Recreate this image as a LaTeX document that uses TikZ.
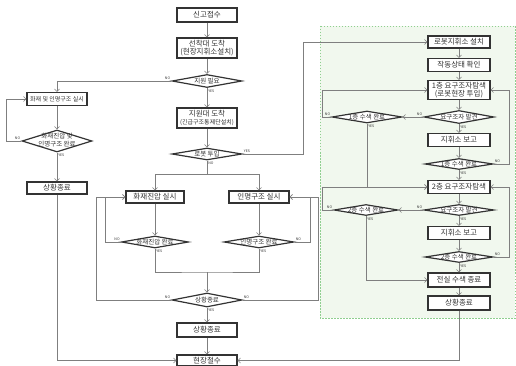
\documentclass[tikz,border=0pt]{standalone}
\usepackage{fontspec}
\setmainfont{Noto Sans CJK KR}
\usepackage{xcolor}
\usetikzlibrary{arrows.meta,shapes.geometric}

\definecolor{ink}{HTML}{333333}
\definecolor{wirecol}{HTML}{7F7F7F}
\definecolor{zonefill}{HTML}{F1F8EE}
\definecolor{zoneline}{HTML}{8FCF8F}
\newcommand{\dt}[1]{\makebox[0pt]{#1}}

\begin{document}
\begin{tikzpicture}[
    x=1pt, y=-1pt,
    box/.style={draw=ink, line width=1.2pt, fill=white, minimum width=62pt, minimum height=13pt,
                inner sep=0pt, align=center, text=ink, font=\fontsize{7.5}{8.5}\selectfont},
    dia/.style={diamond, aspect=1, draw=ink, line width=1.2pt, fill=white, inner sep=0pt,
                text=ink, font=\fontsize{6.5}{7}\selectfont},
    flow/.style={draw=wirecol, line width=0.6pt, -{Straight Barb[length=2.5pt,width=5pt]}},
    wire/.style={draw=wirecol, line width=0.6pt},
    lbl/.style={font=\fontsize{3.5}{4}\selectfont, text=ink, inner sep=1pt},
    zone/.style={draw=zoneline, fill=zonefill, line width=0.6pt, dash pattern=on 1.5pt off 1.5pt}
]
\useasboundingbox (0,0) rectangle (516,366);

% Robot zone
\draw[zone] (320,26) rectangle (515,318);

% Main column
\node[box, minimum width=60pt, minimum height=14pt] (recv) at (207,15) {신고접수};
\node[box, minimum width=60pt, minimum height=20pt] (first) at (207,48) {선착대 도착\\(현장지휘소설치)};
\node[dia, minimum width=70pt, minimum height=13pt] (needq) at (207,81) {\dt{지원 필요}};
\node[box, minimum width=60pt, minimum height=20pt] (support) at (207,118)
    {지원대 도착\\{\fontsize{6}{7}\selectfont(긴급구조통제단설치)}};
\node[dia, minimum width=70pt, minimum height=12pt] (robotq) at (207,154) {\dt{로봇 투입}};
\coordinate (split) at (207,174);
\node[box, minimum width=58pt, minimum height=12pt] (fire) at (155,197) {화재진압 실시};
\node[box, minimum width=60pt, minimum height=12pt] (rescue) at (259,197) {인명구조 실시};
\node[dia, minimum width=67pt, minimum height=12pt] (fireq) at (155,242) {\dt{화재진압 완료}};
\node[dia, minimum width=70pt, minimum height=12pt] (rescueq) at (259,242) {\dt{인명구조 완료}};
\coordinate (merge) at (207,272);
\node[dia, minimum width=70pt, minimum height=14pt] (endq) at (207,300) {\dt{상황종료}};
\node[box, minimum width=60pt, minimum height=14pt] (endbox) at (207,330) {상황종료};
\node[box, minimum width=60pt, minimum height=11pt] (withdraw) at (207,360.5) {현장철수};

% Left column (no support)
\node[box, minimum width=60pt, minimum height=13pt, font=\fontsize{6}{7}\selectfont] (solo) at (57,99)
    {화재 및 인명구조 실시};
\node[dia, minimum width=70pt, minimum height=22pt] (soloq) at (57,141)
    {\dt{\begin{tabular}{@{}c@{}}화재진압 및\\인명구조 완료\end{tabular}}};
\node[box, minimum width=60pt, minimum height=12pt] (soloend) at (57,188) {상황종료};

% Robot column
\node[box, minimum height=12pt] (rcmd) at (459,42) {로봇지휘소 설치};
\node[box] (rcheck) at (459,65) {작동상태 확인};
\node[box, minimum height=19pt] (f1) at (459,90) {1층 요구조자탐색\\(로봇현장 투입)};
\node[dia, minimum width=70pt, minimum height=13pt] (f1find) at (459,117) {\dt{요구조자 발견}};
\node[dia, minimum width=70pt, minimum height=12pt] (f1done) at (367,117) {\dt{1층 수색 완료}};
\node[box] (f1rep) at (459,140) {지휘소 보고};
\node[dia, minimum width=68pt, minimum height=11pt] (f1fin) at (459,164) {\dt{1층 수색 완료}};
\node[box] (f2) at (459,187) {2층 요구조자탐색};
\node[dia, minimum width=70pt, minimum height=11pt] (f2find) at (459,210) {\dt{요구조자 발견}};
\node[dia, minimum width=64pt, minimum height=11pt] (f2done) at (366,210) {\dt{2층 수색 완료}};
\node[box] (f2rep) at (459,233) {지휘소 보고};
\node[dia, minimum width=68pt, minimum height=11pt] (f2fin) at (459,257) {\dt{2층 수색 완료}};
\node[box, minimum height=14pt] (allend) at (459,280) {전실 수색 종료};
\node[box, minimum height=14pt] (rend) at (459,303) {상황종료};

% Main flow
\draw[flow] (recv) -- (first);
\draw[flow] (first) -- (needq);
\draw[flow] (needq.west) node[lbl, above left] {NO} -| (solo);
\draw[flow] (needq.south) node[lbl, below right] {YES} -- (support);
\draw[flow] (support) -- (robotq);
\draw[flow] (robotq.east) node[lbl, above right] {YES} -- ++(61,0) |- (rcmd);
\draw[wire] (robotq.south) node[lbl, below right] {NO} -- (split);
\draw[flow] (split) -| (fire);
\draw[flow] (split) -| (rescue);
\draw[flow] (fire) -- (fireq);
\draw[flow] (rescue) -- (rescueq);
\draw[flow] (fireq.west) node[lbl, above left] {NO} -- ++(-16,0) |- (fire);
\draw[flow] (rescueq.east) node[lbl, above right] {NO} -- ++(16,0) |- (rescue);
\draw[wire] (fireq.south) node[lbl, below right] {YES} |- (merge) -| (rescueq.south)
    node[lbl, below right] {YES};
\draw[flow] (merge) -- (endq);
\draw[flow] (endq.west) node[lbl, above left] {NO} -- ++(-75,0) |- (fire);
\draw[flow] (endq.east) node[lbl, above right] {NO} -- ++(76,0) |- (rescue);
\draw[flow] (endq.south) node[lbl, below right] {YES} -- (endbox);
\draw[flow] (endbox) -- (withdraw);

% Left flow
\draw[flow] (solo) -- (soloq);
\draw[flow] (soloq.west) node[lbl, above left] {NO} -- ++(-15,0) |- (solo);
\draw[flow] (soloq.south) node[lbl, below right] {YES} -- (soloend);
\draw[flow] (soloend) |- (withdraw);

% Robot flow
\draw[flow] (rcmd) -- (rcheck);
\draw[flow] (rcheck) -- (f1);
\draw[flow] (f1) -- (f1find);
\draw[flow] (f1find.west) node[lbl, above left] {NO} -- (f1done.east);
\draw[flow] (f1done.west) node[lbl, above left] {NO} -- ++(-9,0) |- (f1);
\draw[flow] (f1done.south) node[lbl, below right] {YES} |- (f2);
\draw[flow] (f1find.south) node[lbl, below right] {YES} -- (f1rep);
\draw[flow] (f1rep) -- (f1fin);
\draw[flow] (f1fin.east) node[lbl, above right] {NO} -- ++(16,0) |- (f1);
\draw[flow] (f1fin.south) node[lbl, below right] {YES} -- (f2);
\draw[flow] (f2) -- (f2find);
\draw[flow] (f2find.west) node[lbl, above left] {NO} -- (f2done.east);
\draw[flow] (f2done.west) node[lbl, above left] {NO} -- ++(-11,0) |- (f2);
\draw[flow] (f2done.south) node[lbl, below right] {YES} |- (allend);
\draw[flow] (f2find.south) node[lbl, below right] {YES} -- (f2rep);
\draw[flow] (f2rep) -- (f2fin);
\draw[flow] (f2fin.east) node[lbl, above right] {NO} -- ++(16,0) |- (f2);
\draw[flow] (f2fin.south) node[lbl, below right] {YES} -- (allend);
\draw[flow] (allend) -- (rend);
\draw[flow] (rend) |- (withdraw);

\end{tikzpicture}
\end{document}
